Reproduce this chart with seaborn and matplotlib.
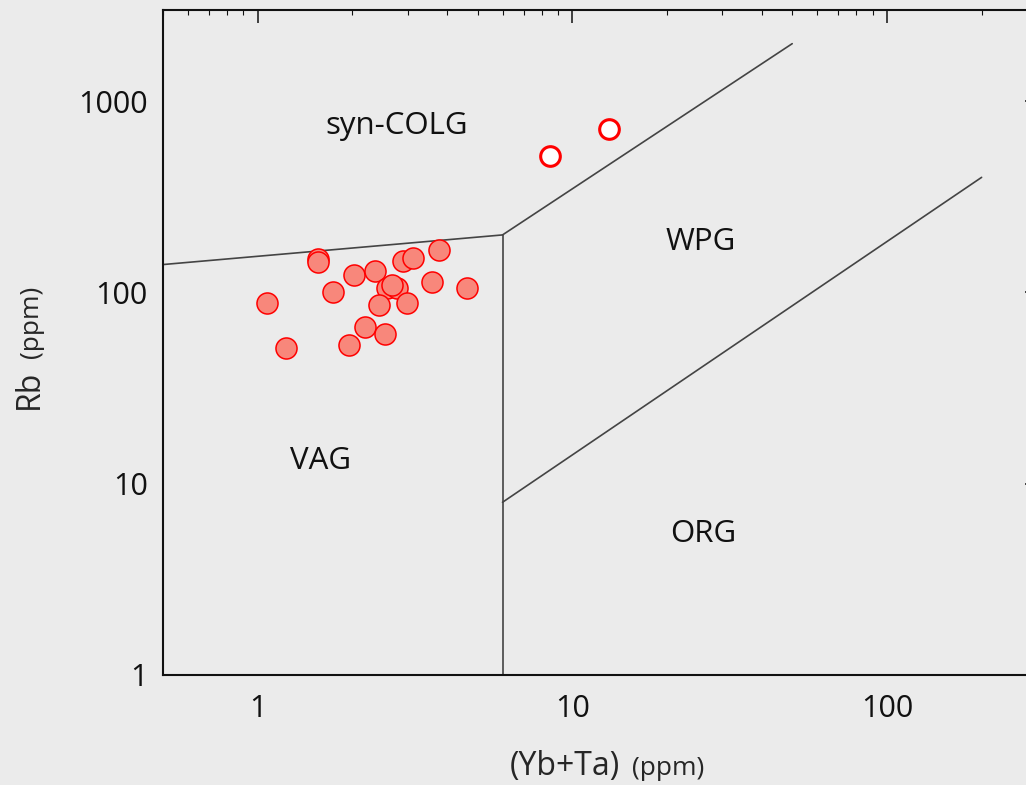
import numpy as np
import pandas as pd
import matplotlib
matplotlib.use("Agg")
import matplotlib.pyplot as plt
import seaborn as sns
from matplotlib.ticker import LogLocator, NullFormatter, FixedLocator

# Pearce (1984) Rb vs (Yb+Ta) discrimination - sample data
yb_ta = [1.56, 1.56, 2.02, 2.36, 2.90, 3.12, 3.77, 1.74, 1.07, 3.57,
         4.61, 2.58, 2.77, 2.68, 2.99, 2.43, 2.20, 2.53, 1.95, 1.23]
rb = [149, 144, 124, 129, 147, 152, 167, 101, 88, 114,
      105, 106, 106, 109, 88, 86, 66, 61, 53, 51]

# two samples plotted as open circles
yb_ta_open = [8.5, 13.1]
rb_open = [515, 713]

# field boundaries
line_vag_colg_x = [0.5, 6]
line_vag_colg_y = [140, 200]
line_vag_wpg_x = [6, 6]
line_vag_wpg_y = [1, 200]
line_colg_wpg_x = [6, 50]
line_colg_wpg_y = [200, 2000]
line_wpg_org_x = [6, 200]
line_wpg_org_y = [8, 400]

field_names = ["syn-COLG", "WPG", "VAG", "ORG"]
field_x = [2.77, 25.6, 1.59, 26.1]
field_y = [740, 183, 13.2, 5.47]

xticks = [1, 10, 100]
yticks = [1, 10, 100, 1000]

bg = "#EBEBEB"
sns.set_theme(style="white", rc={"figure.facecolor": bg, "axes.facecolor": bg})
plt.rcParams["font.family"] = ["Open Sans", "DejaVu Sans"]

df = pd.DataFrame({"x": yb_ta, "y": rb})
df_open = pd.DataFrame({"x": yb_ta_open, "y": rb_open})

fig = plt.figure(figsize=(10.26, 7.85), dpi=100)
ax = fig.add_axes([163 / 1026, 110 / 785, 874 / 1026, 665 / 785])
ax.set_xscale("log")
ax.set_yscale("log")

lc = "#444444"
for lx, ly in [(line_vag_colg_x, line_vag_colg_y), (line_vag_wpg_x, line_vag_wpg_y),
               (line_colg_wpg_x, line_colg_wpg_y), (line_wpg_org_x, line_wpg_org_y)]:
    ax.plot(lx, ly, color=lc, lw=1.2, zorder=2)

sns.scatterplot(data=df, x="x", y="y", ax=ax, s=230, color="#F8877B",
                edgecolor="red", linewidth=1.1, zorder=3)
sns.scatterplot(data=df_open, x="x", y="y", ax=ax, s=200, color="white",
                edgecolor="red", linewidth=2.2, zorder=3)

for name, fx, fy in zip(field_names, field_x, field_y):
    ax.text(fx, fy, name, ha="center", va="center", fontsize=22.5, color="#111111")

ax.set_xlim(0.5, 300)
ax.set_ylim(1, 3000)
ax.xaxis.set_major_locator(FixedLocator(xticks))
ax.yaxis.set_major_locator(FixedLocator(yticks))
ax.set_xticklabels([str(t) for t in xticks])
ax.set_yticklabels([str(t) for t in yticks])
ax.xaxis.set_minor_locator(LogLocator(base=10, subs=np.arange(2, 10)))
ax.yaxis.set_minor_locator(LogLocator(base=10, subs=np.arange(2, 10)))
ax.xaxis.set_minor_formatter(NullFormatter())
ax.yaxis.set_minor_formatter(NullFormatter())
ax.tick_params(which="both", direction="in", top=True, right=True,
               colors="#111111", labelsize=22)
ax.tick_params(which="major", length=9, width=1.1)
ax.tick_params(which="minor", length=3.5, width=0.8)
ax.tick_params(axis="x", pad=14)
ax.tick_params(axis="y", pad=11)
ax.set_xlabel("")
ax.set_ylabel("")
for sp in ax.spines.values():
    sp.set_color("#111111")
    sp.set_linewidth(1.5)

# axis titles with smaller unit text
fig.text(620 / 1026, 10 / 785, "(Yb+Ta)", ha="right", va="baseline", fontsize=23)
fig.text(632 / 1026, 10 / 785, "(ppm)", ha="left", va="baseline", fontsize=19)
fig.text(38 / 1026, 415 / 785, "Rb", rotation=90, rotation_mode="anchor",
         ha="right", va="baseline", fontsize=23)
fig.text(38 / 1026, 427 / 785, "(ppm)", rotation=90, rotation_mode="anchor",
         ha="left", va="baseline", fontsize=19)

fig.savefig("out.png", dpi=100, facecolor=bg)
